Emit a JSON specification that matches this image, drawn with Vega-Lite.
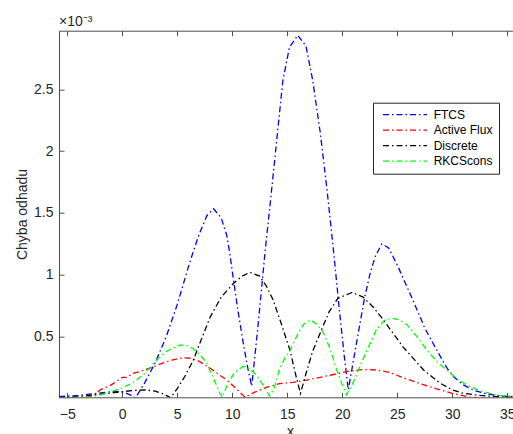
{
  "$schema": "https://vega.github.io/schema/vega-lite/v6.json",
  "width": 462,
  "height": 366.6,
  "autosize": {"type": "none"},
  "padding": {"left": 59, "top": 30.7, "right": 0, "bottom": 36.7},
  "background": "white",
  "title": {"text": "×10⁻³", "anchor": "start", "frame": "group", "orient": "top", "baseline": "alphabetic", "offset": 4, "dy": 14, "fontSize": 14, "fontWeight": "normal", "font": "Liberation Sans", "color": "#262626"},
  "config": {
    "view": {"stroke": null},
    "axis": {"grid": false, "labelFont": "Liberation Sans", "titleFont": "Liberation Sans", "labelColor": "#262626", "titleColor": "#262626", "labelFontSize": 14, "titleFontSize": 14, "titleFontWeight": "normal", "domainColor": "#4d4d4d", "tickColor": "#4d4d4d", "domainWidth": 1, "tickWidth": 1, "tickSize": -5}
  },
  "data": {"values": [
    {"m":"FTCS","x":-5.75,"v":0.015},{"m":"FTCS","x":-4,"v":0.025},{"m":"FTCS","x":-3,"v":0.035},{"m":"FTCS","x":-2,"v":0.045},{"m":"FTCS","x":-1,"v":0.055},{"m":"FTCS","x":-0.3,"v":0.058},{"m":"FTCS","x":0.3,"v":0.045},{"m":"FTCS","x":0.8,"v":0.025},{"m":"FTCS","x":1.2,"v":0.005},{"m":"FTCS","x":2,"v":0.12},{"m":"FTCS","x":3,"v":0.29},{"m":"FTCS","x":4,"v":0.5},{"m":"FTCS","x":5,"v":0.76},{"m":"FTCS","x":6,"v":1.06},{"m":"FTCS","x":6.5,"v":1.2},{"m":"FTCS","x":7,"v":1.33},{"m":"FTCS","x":7.7,"v":1.48},{"m":"FTCS","x":8.3,"v":1.534},{"m":"FTCS","x":9,"v":1.46},{"m":"FTCS","x":9.5,"v":1.32},{"m":"FTCS","x":9.8,"v":1.16},{"m":"FTCS","x":10,"v":1.03},{"m":"FTCS","x":10.5,"v":0.72},{"m":"FTCS","x":11,"v":0.45},{"m":"FTCS","x":11.4,"v":0.25},{"m":"FTCS","x":11.77,"v":0.1},{"m":"FTCS","x":12.3,"v":0.55},{"m":"FTCS","x":13,"v":1.2},{"m":"FTCS","x":13.5,"v":1.62},{"m":"FTCS","x":14,"v":2.05},{"m":"FTCS","x":14.6,"v":2.57},{"m":"FTCS","x":15.2,"v":2.84},{"m":"FTCS","x":15.96,"v":2.937},{"m":"FTCS","x":16.7,"v":2.85},{"m":"FTCS","x":17.3,"v":2.58},{"m":"FTCS","x":18,"v":2.15},{"m":"FTCS","x":18.6,"v":1.7},{"m":"FTCS","x":19.2,"v":1.2},{"m":"FTCS","x":19.7,"v":0.75},{"m":"FTCS","x":20.2,"v":0.33},{"m":"FTCS","x":20.55,"v":0.07},{"m":"FTCS","x":21,"v":0.3},{"m":"FTCS","x":21.5,"v":0.55},{"m":"FTCS","x":22,"v":0.8},{"m":"FTCS","x":22.5,"v":1.0},{"m":"FTCS","x":23,"v":1.15},{"m":"FTCS","x":23.6,"v":1.25},{"m":"FTCS","x":24.2,"v":1.22},{"m":"FTCS","x":25,"v":1.08},{"m":"FTCS","x":25.8,"v":0.92},{"m":"FTCS","x":26.5,"v":0.78},{"m":"FTCS","x":27.5,"v":0.57},{"m":"FTCS","x":28.6,"v":0.39},{"m":"FTCS","x":29.5,"v":0.25},{"m":"FTCS","x":30.1,"v":0.177},{"m":"FTCS","x":31,"v":0.11},{"m":"FTCS","x":32,"v":0.065},{"m":"FTCS","x":33,"v":0.04},{"m":"FTCS","x":34,"v":0.025},{"m":"FTCS","x":35,"v":0.018},{"m":"FTCS","x":36.25,"v":0.012},
    {"m":"Active Flux","x":-5.75,"v":0},{"m":"Active Flux","x":-4,"v":0.002},{"m":"Active Flux","x":-3.2,"v":0.008},{"m":"Active Flux","x":-2.5,"v":0.03},{"m":"Active Flux","x":-2,"v":0.07},{"m":"Active Flux","x":-1.5,"v":0.09},{"m":"Active Flux","x":-1,"v":0.11},{"m":"Active Flux","x":-0.5,"v":0.14},{"m":"Active Flux","x":0,"v":0.17},{"m":"Active Flux","x":0.4,"v":0.17},{"m":"Active Flux","x":0.9,"v":0.2},{"m":"Active Flux","x":1.5,"v":0.215},{"m":"Active Flux","x":2.5,"v":0.245},{"m":"Active Flux","x":3.5,"v":0.28},{"m":"Active Flux","x":4.5,"v":0.31},{"m":"Active Flux","x":5.5,"v":0.33},{"m":"Active Flux","x":6.3,"v":0.325},{"m":"Active Flux","x":7,"v":0.3},{"m":"Active Flux","x":8,"v":0.245},{"m":"Active Flux","x":9,"v":0.18},{"m":"Active Flux","x":9.5,"v":0.15},{"m":"Active Flux","x":10.3,"v":0.085},{"m":"Active Flux","x":11.16,"v":0.01},{"m":"Active Flux","x":12,"v":0.05},{"m":"Active Flux","x":13.1,"v":0.09},{"m":"Active Flux","x":14.3,"v":0.12},{"m":"Active Flux","x":15.5,"v":0.13},{"m":"Active Flux","x":16.5,"v":0.145},{"m":"Active Flux","x":17.4,"v":0.16},{"m":"Active Flux","x":19,"v":0.19},{"m":"Active Flux","x":20.5,"v":0.22},{"m":"Active Flux","x":22,"v":0.235},{"m":"Active Flux","x":23.2,"v":0.23},{"m":"Active Flux","x":24.3,"v":0.21},{"m":"Active Flux","x":25.5,"v":0.17},{"m":"Active Flux","x":27,"v":0.123},{"m":"Active Flux","x":28.5,"v":0.08},{"m":"Active Flux","x":30,"v":0.042},{"m":"Active Flux","x":31.5,"v":0.012},{"m":"Active Flux","x":33,"v":0.003},{"m":"Active Flux","x":36.25,"v":0},
    {"m":"Discrete","x":-5.75,"v":0.005},{"m":"Discrete","x":-4,"v":0.015},{"m":"Discrete","x":-2,"v":0.035},{"m":"Discrete","x":0,"v":0.055},{"m":"Discrete","x":1,"v":0.065},{"m":"Discrete","x":2,"v":0.07},{"m":"Discrete","x":3,"v":0.06},{"m":"Discrete","x":3.8,"v":0.035},{"m":"Discrete","x":4.4,"v":0.005},{"m":"Discrete","x":5,"v":0.08},{"m":"Discrete","x":5.7,"v":0.18},{"m":"Discrete","x":6.46,"v":0.31},{"m":"Discrete","x":7.2,"v":0.48},{"m":"Discrete","x":8,"v":0.66},{"m":"Discrete","x":9,"v":0.82},{"m":"Discrete","x":10.1,"v":0.93},{"m":"Discrete","x":10.9,"v":0.99},{"m":"Discrete","x":11.6,"v":1.02},{"m":"Discrete","x":12.5,"v":0.99},{"m":"Discrete","x":13.1,"v":0.91},{"m":"Discrete","x":13.7,"v":0.8},{"m":"Discrete","x":14.4,"v":0.62},{"m":"Discrete","x":15.25,"v":0.39},{"m":"Discrete","x":15.8,"v":0.18},{"m":"Discrete","x":16.2,"v":0.04},{"m":"Discrete","x":16.7,"v":0.2},{"m":"Discrete","x":17.3,"v":0.38},{"m":"Discrete","x":18,"v":0.53},{"m":"Discrete","x":18.8,"v":0.7},{"m":"Discrete","x":19.6,"v":0.81},{"m":"Discrete","x":20.9,"v":0.857},{"m":"Discrete","x":21.9,"v":0.82},{"m":"Discrete","x":22.8,"v":0.74},{"m":"Discrete","x":23.7,"v":0.64},{"m":"Discrete","x":24.6,"v":0.53},{"m":"Discrete","x":25.5,"v":0.42},{"m":"Discrete","x":26.5,"v":0.32},{"m":"Discrete","x":27.4,"v":0.23},{"m":"Discrete","x":28.9,"v":0.123},{"m":"Discrete","x":30,"v":0.07},{"m":"Discrete","x":31,"v":0.042},{"m":"Discrete","x":32.5,"v":0.025},{"m":"Discrete","x":34,"v":0.015},{"m":"Discrete","x":36.25,"v":0.008},
    {"m":"RKCScons","x":-5.75,"v":0},{"m":"RKCScons","x":-3,"v":0.01},{"m":"RKCScons","x":-2,"v":0.03},{"m":"RKCScons","x":-1,"v":0.055},{"m":"RKCScons","x":0,"v":0.085},{"m":"RKCScons","x":1,"v":0.13},{"m":"RKCScons","x":2,"v":0.2},{"m":"RKCScons","x":3,"v":0.3},{"m":"RKCScons","x":4,"v":0.38},{"m":"RKCScons","x":5.25,"v":0.433},{"m":"RKCScons","x":6,"v":0.425},{"m":"RKCScons","x":6.5,"v":0.4},{"m":"RKCScons","x":7.1,"v":0.35},{"m":"RKCScons","x":7.7,"v":0.285},{"m":"RKCScons","x":8.3,"v":0.16},{"m":"RKCScons","x":8.9,"v":0.04},{"m":"RKCScons","x":9.1,"v":0.01},{"m":"RKCScons","x":9.5,"v":0.1},{"m":"RKCScons","x":10.2,"v":0.21},{"m":"RKCScons","x":11,"v":0.26},{"m":"RKCScons","x":11.6,"v":0.24},{"m":"RKCScons","x":12.2,"v":0.19},{"m":"RKCScons","x":12.8,"v":0.11},{"m":"RKCScons","x":13.4,"v":0.02},{"m":"RKCScons","x":13.8,"v":0.08},{"m":"RKCScons","x":14.3,"v":0.24},{"m":"RKCScons","x":14.8,"v":0.33},{"m":"RKCScons","x":15.25,"v":0.39},{"m":"RKCScons","x":16,"v":0.53},{"m":"RKCScons","x":16.5,"v":0.6},{"m":"RKCScons","x":17.1,"v":0.636},{"m":"RKCScons","x":17.7,"v":0.6},{"m":"RKCScons","x":18.3,"v":0.53},{"m":"RKCScons","x":18.9,"v":0.4},{"m":"RKCScons","x":19.5,"v":0.23},{"m":"RKCScons","x":20,"v":0.11},{"m":"RKCScons","x":20.4,"v":0.03},{"m":"RKCScons","x":21,"v":0.13},{"m":"RKCScons","x":21.6,"v":0.26},{"m":"RKCScons","x":22.3,"v":0.4},{"m":"RKCScons","x":23.1,"v":0.555},{"m":"RKCScons","x":23.8,"v":0.63},{"m":"RKCScons","x":24.5,"v":0.65},{"m":"RKCScons","x":25.2,"v":0.635},{"m":"RKCScons","x":25.9,"v":0.595},{"m":"RKCScons","x":26.8,"v":0.5},{"m":"RKCScons","x":27.7,"v":0.39},{"m":"RKCScons","x":28.6,"v":0.3},{"m":"RKCScons","x":29.5,"v":0.23},{"m":"RKCScons","x":30.4,"v":0.16},{"m":"RKCScons","x":31.3,"v":0.11},{"m":"RKCScons","x":32.3,"v":0.07},{"m":"RKCScons","x":33.4,"v":0.042},{"m":"RKCScons","x":34.3,"v":0.025},{"m":"RKCScons","x":36.25,"v":0.012}
  ]},
  "layer": [
    {
      "mark": {"type": "line", "strokeWidth": 1.3, "strokeDash": [6, 3, 1.5, 3], "clip": true},
      "encoding": {
        "x": {"field": "x", "type": "quantitative", "scale": {"domain": [-5.75, 36.25], "nice": false, "zero": false},
              "axis": {"values": [-5,0,5,10,15,20,25,30,35], "title": "x", "labelPadding": 15, "titlePadding": 3}},
        "y": {"field": "v", "type": "quantitative", "scale": {"domain": [0.0097, 2.974], "nice": false, "zero": false},
              "axis": {"values": [0.5,1,1.5,2,2.5], "format": "~g", "title": "Chyba odhadu", "labelPadding": 11, "titlePadding": 4}},
        "color": {"field": "m", "type": "nominal", "sort": null,
                  "scale": {"domain": ["FTCS","Active Flux","Discrete","RKCScons"], "range": ["#0000ff","#ff0000","#000000","#00ff00"]},
                  "legend": {"orient": "none", "legendX": 314, "legendY": 72, "title": null, "symbolType": "M-1,0H21", "symbolSize": 16, "symbolStrokeWidth": 1.2, "symbolDash": [6, 3, 1.5, 3], "symbolFillColor": "transparent", "labelOffset": 42.7, "labelFontSize": 12, "labelFont": "Liberation Sans", "labelColor": "#000000", "strokeColor": "#262626", "fillColor": "white", "padding": 6, "rowPadding": 3.5, "cornerRadius": 0}}
      }
    },
    {
      "mark": {"type": "tick", "opacity": 0},
      "encoding": {
        "x": {"field": "x", "type": "quantitative", "axis": {"orient": "top", "values": [-5,0,5,10,15,20,25,30,35], "labels": false, "title": null}}
      }
    }
  ],
  "resolve": {"axis": {"x": "independent"}}
}
